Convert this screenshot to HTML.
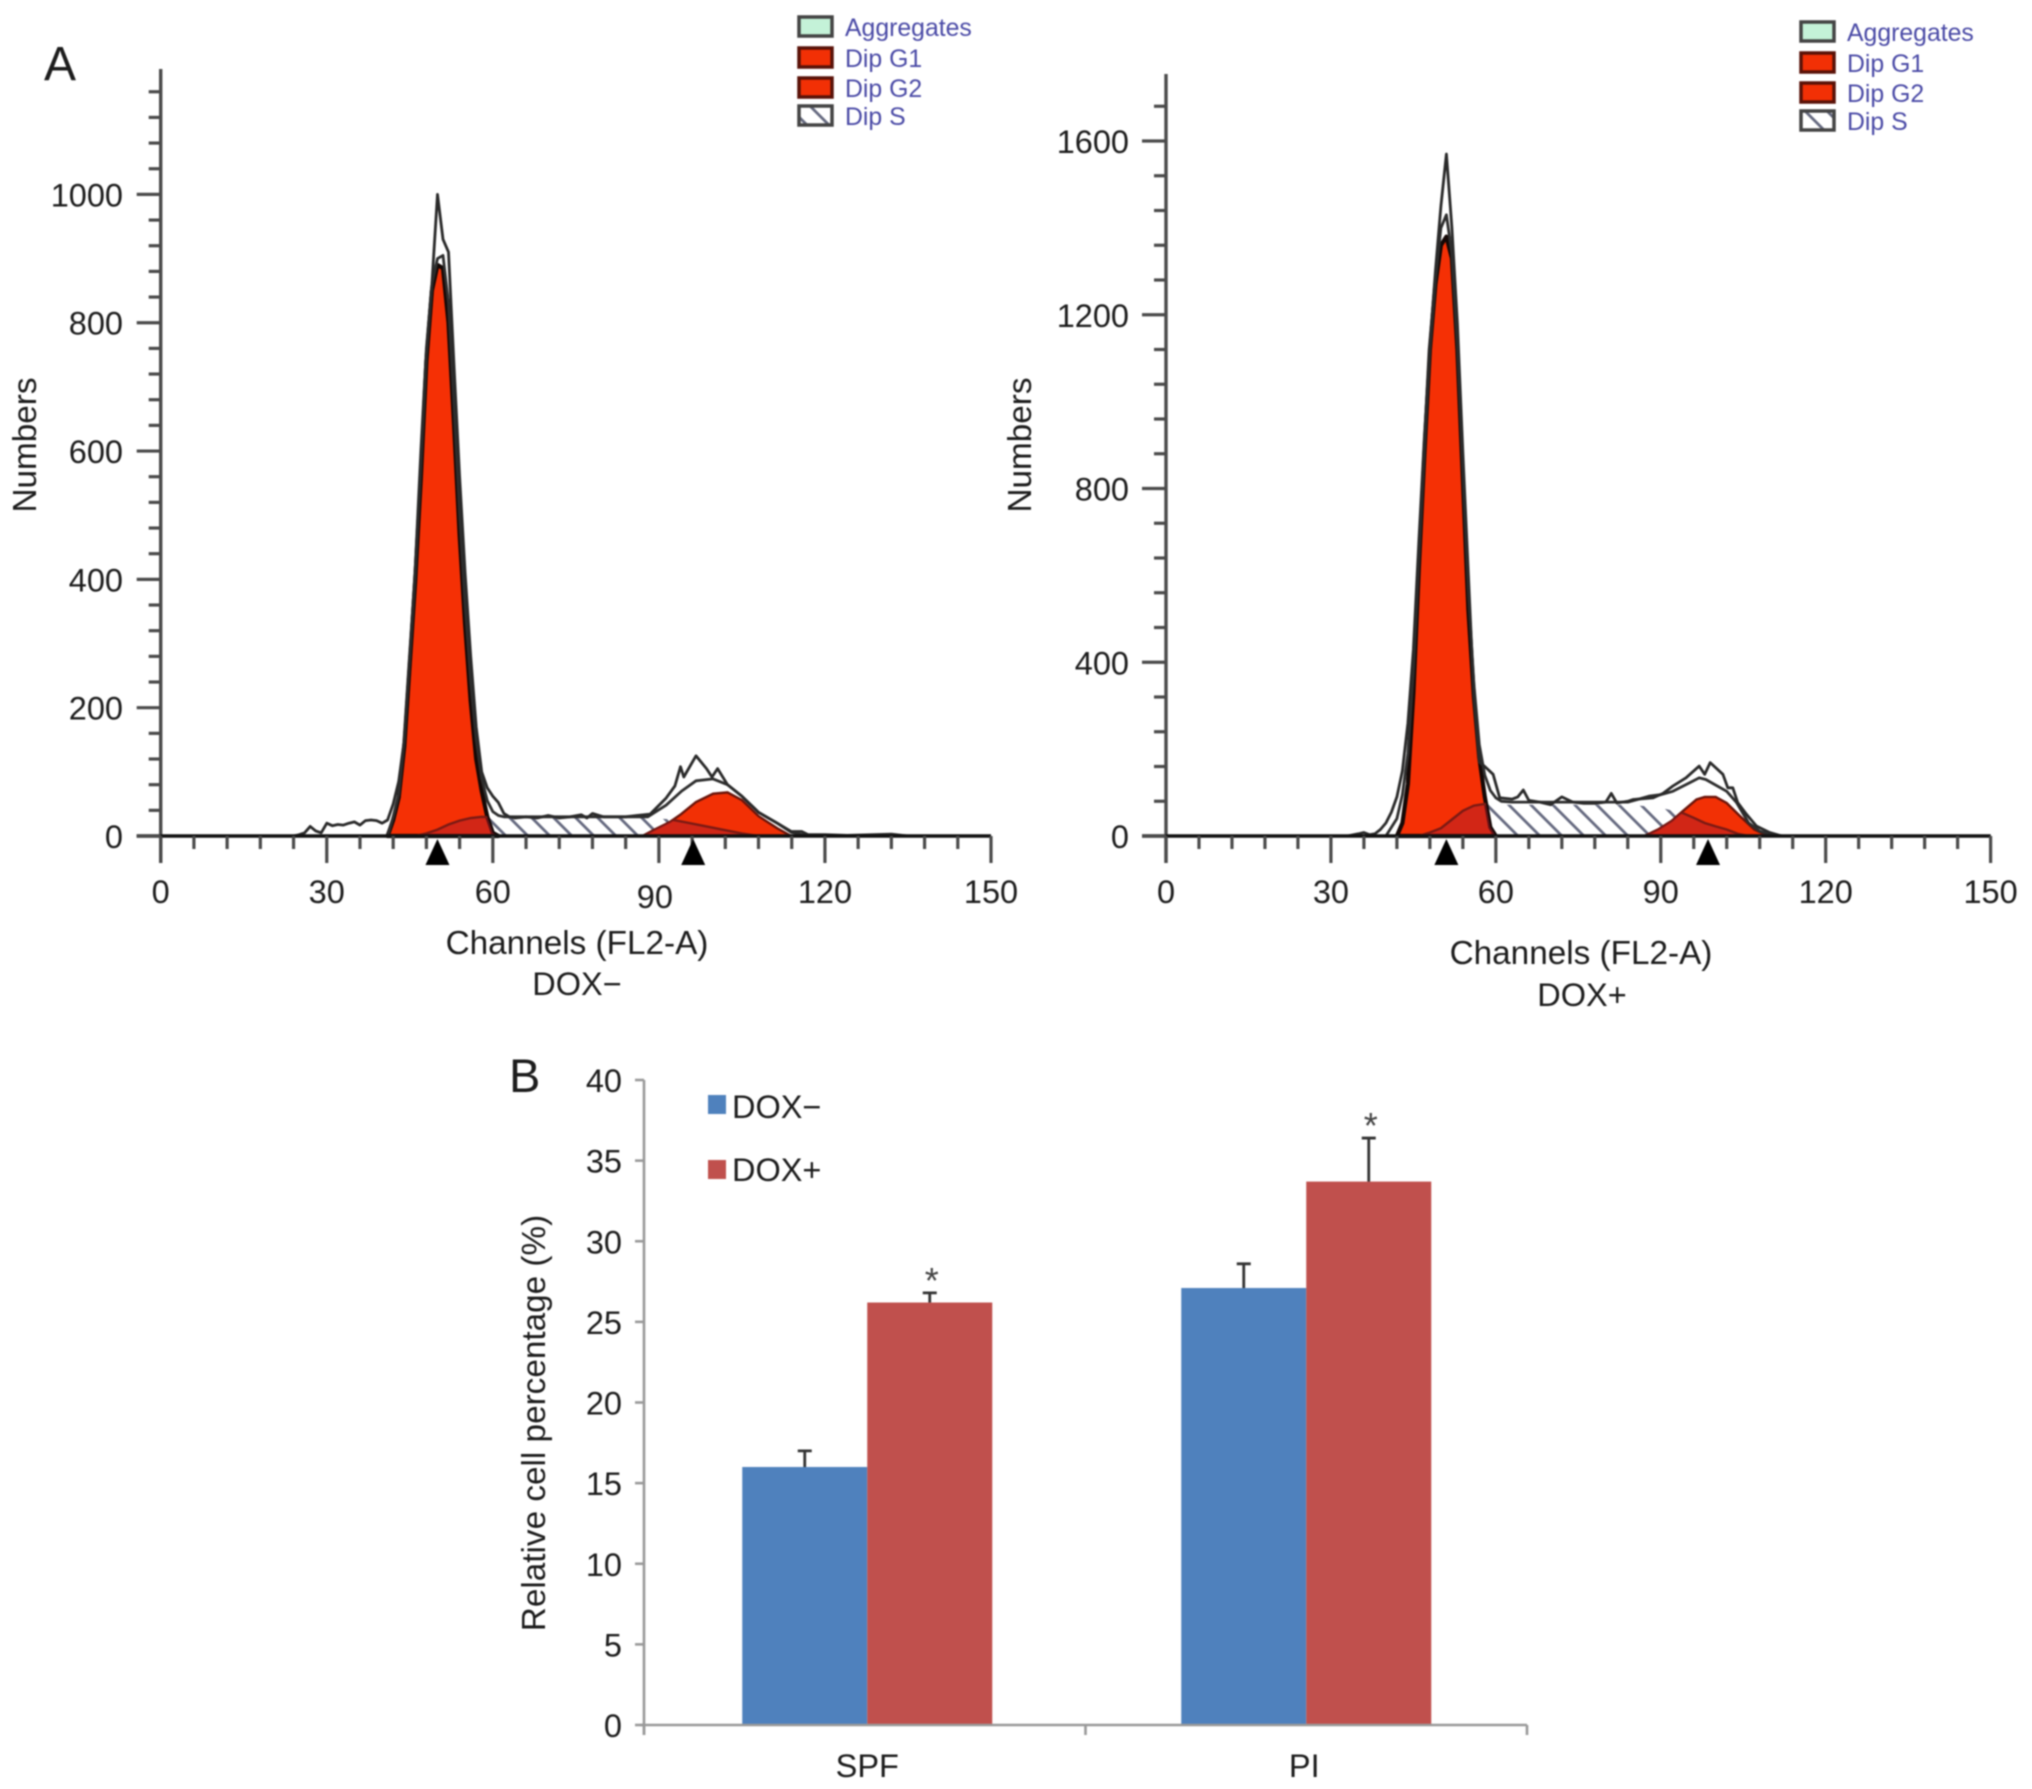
<!DOCTYPE html>
<html lang="en">
<head>
<meta charset="utf-8">
<title>Cell cycle histograms and relative cell percentage</title>
<style>
html,body{margin:0;padding:0;background:#fff;width:2032px;height:1789px;overflow:hidden}
svg{display:block;filter:blur(.9px)}
text{font-family:"Liberation Sans",Arial,sans-serif;fill:#1c1c1c;font-size:32.5px}
.title{font-size:33.3px}
.legend-text{font-size:24.8px;fill:#4a4aa6}
</style>
</head>
<body>
<svg id="figure" xmlns="http://www.w3.org/2000/svg" width="2032" height="1789" viewBox="0 0 2032 1789">
  <defs>
    <pattern id="hatch" patternUnits="userSpaceOnUse" width="22" height="22">
      <path d="M0 0L22 22M-6 16L6 28M16 -6L28 6" stroke="#666a80" stroke-width="2.8" fill="none"/>
    </pattern>
  </defs>
  <rect width="2032" height="1789" fill="#fff"/>

  <text x="44" y="80" style="font-size:48px">A</text>
  <text x="509" y="1092" style="font-size:47px">B</text>

  <g id="histogram-left"></g>
  <g id="histogram-right"></g>
  <g id="bar-chart"></g>

  <text class="title" transform="translate(36,445) rotate(-90)" text-anchor="middle">Numbers</text>
  <text class="title" x="577" y="954" text-anchor="middle">Channels (FL2-A)</text>
  <text x="577" y="995" text-anchor="middle">DOX−</text>
  <text class="title" transform="translate(1031,445) rotate(-90)" text-anchor="middle">Numbers</text>
  <text class="title" x="1581" y="964" text-anchor="middle">Channels (FL2-A)</text>
  <text x="1582" y="1006" text-anchor="middle">DOX+</text>
  <text class="title" transform="translate(545,1423) rotate(-90)" text-anchor="middle">Relative cell percentage (%)</text>

  <g>
    <g><rect x="799" y="17" width="33" height="19" fill="#c4f2d8" stroke="#444" stroke-width="3.5"/><text class="legend-text" x="845" y="36">Aggregates</text></g>
    <g><rect x="799" y="48" width="33" height="19" fill="#f23005" stroke="#5a1208" stroke-width="3.5"/><text class="legend-text" x="845" y="67">Dip G1</text></g>
    <g><rect x="799" y="78" width="33" height="19" fill="#f23005" stroke="#5a1208" stroke-width="3.5"/><text class="legend-text" x="845" y="97">Dip G2</text></g>
    <g><rect x="799" y="106" width="33" height="19" fill="url(#hatch)" stroke="#444" stroke-width="3.5"/><text class="legend-text" x="845" y="125">Dip S</text></g>
  </g>
  <g>
    <g><rect x="1801" y="22" width="33" height="19" fill="#c4f2d8" stroke="#444" stroke-width="3.5"/><text class="legend-text" x="1847" y="41">Aggregates</text></g>
    <g><rect x="1801" y="53" width="33" height="19" fill="#f23005" stroke="#5a1208" stroke-width="3.5"/><text class="legend-text" x="1847" y="72">Dip G1</text></g>
    <g><rect x="1801" y="83" width="33" height="19" fill="#f23005" stroke="#5a1208" stroke-width="3.5"/><text class="legend-text" x="1847" y="102">Dip G2</text></g>
    <g><rect x="1801" y="111" width="33" height="19" fill="url(#hatch)" stroke="#444" stroke-width="3.5"/><text class="legend-text" x="1847" y="130">Dip S</text></g>
  </g>

  <g>
    <g><rect x="708" y="1095" width="18" height="19" fill="#4f81bd"/><text x="732" y="1118">DOX−</text></g>
    <g><rect x="708" y="1160" width="18" height="19" fill="#c0504d"/><text x="732" y="1181">DOX+</text></g>
  </g>
</svg>

<script>
// ---- Shared histogram tick data ----
const histXTicks = [0, 30, 60, 90, 120, 150];
const histXMinorTicks = [6, 12, 18, 24, 36, 42, 48, 54, 66, 72, 78, 84, 96, 102, 108, 114, 126, 132, 138, 144];

// ---- DOX- histogram ----
const leftYTicks = [0, 200, 400, 600, 800, 1000];
const leftYMinorTicks = [40, 80, 120, 160, 240, 280, 320, 360, 440, 480, 520, 560, 640, 680, 720, 760, 840, 880, 920, 960, 1040, 1080, 1120, 1160];
const leftPeakMarkers = [50, 96.2];
const leftRawCh = [0, 24, 25, 26, 27, 28, 29, 30, 31, 32, 33, 34, 35, 36, 37, 38, 39, 40, 41, 42, 43, 44, 45, 46, 47, 48, 49, 50, 51, 52, 53, 54, 55, 56, 57, 58, 59, 60, 61, 62, 63, 64, 66, 68, 70, 72, 74, 76, 77, 78, 80, 82, 84, 86, 88.4, 91.3, 92.9, 93.9, 94.5, 96.7, 98.6, 99.6, 100.6, 102.4, 105, 108, 111.4, 113.9, 115.8, 117, 120, 124, 132, 135, 150];
const leftRawCount = [0, 0, 2, 5, 15, 8, 5, 20, 16, 18, 17, 20, 22, 17, 24, 25, 24, 20, 25, 50, 85, 150, 280, 420, 600, 760, 860, 1000, 930, 910, 730, 560, 410, 280, 170, 100, 75, 62, 52, 35, 30, 28, 30, 28, 32, 28, 30, 33, 28, 35, 30, 30, 30, 32, 34, 59, 78, 108, 92, 125, 105, 92, 105, 80, 62, 37, 20, 7, 7, 2, 2, 1, 3, 0, 0];
const leftModelCh = [0, 41, 42, 43, 44, 45, 46, 47, 48, 49, 50, 51, 52, 53, 54, 55, 56, 57, 58, 59, 60, 61, 62, 88, 91.3, 94.1, 96.7, 99.8, 102.4, 105, 108, 111.4, 113.9, 116, 118, 150];
const leftModelCount = [0, 0, 30, 65, 150, 280, 410, 580, 750, 860, 900, 905, 830, 670, 500, 360, 240, 150, 90, 55, 38, 32, 30, 30, 48, 70, 86, 89, 80, 62, 37, 20, 6, 2, 0, 0];
const leftG1Ch = [41, 42, 43, 44, 45, 46, 47, 48, 49, 50, 51, 52, 53, 54, 55, 56, 57, 58, 59, 60, 61];
const leftG1Count = [0, 25, 60, 140, 270, 400, 560, 740, 850, 890, 885, 800, 640, 470, 330, 210, 120, 70, 30, 5, 0];
const leftG2Ch = [87, 89, 92, 94, 96.7, 99.8, 102.4, 105, 108, 111.4, 113.9];
const leftG2Count = [0, 9, 22, 34, 53, 66, 68, 56, 31, 12, 0];
const leftSCh = [46, 48, 50, 52, 54, 56, 58, 60, 62, 88, 92, 95, 98.6, 102, 105, 108];
const leftSCount = [0, 4, 10, 18, 24, 28, 30, 29, 28, 28, 26, 21, 15, 9, 4, 0];

// ---- DOX+ histogram ----
const rightYTicks = [0, 400, 800, 1200, 1600];
const rightYMinorTicks = [80, 160, 240, 320, 480, 560, 640, 720, 880, 960, 1040, 1120, 1280, 1360, 1440, 1520, 1680];
const rightPeakMarkers = [51, 98.6];
const rightRawCh = [0, 33, 35, 36, 37, 38, 39, 40, 41, 42, 43, 44, 45, 46, 47, 48, 49, 50, 51, 52, 53, 54, 55, 56, 57, 58, 59.5, 60.7, 63, 64, 65, 66, 68, 70, 72, 74, 76, 78, 80, 81, 82, 84, 85, 88.6, 90.4, 92.2, 94.6, 97, 98, 99, 101.3, 102.2, 103.1, 104, 105.6, 107.4, 109.8, 112, 150];
const rightRawCount = [0, 0, 5, 8, 3, 5, 15, 30, 55, 90, 150, 260, 430, 680, 920, 1130, 1300, 1450, 1570, 1400, 1180, 880, 600, 320, 170, 160, 142, 88, 85, 90, 106, 82, 78, 72, 90, 78, 75, 75, 78, 98, 76, 80, 84, 88, 98, 115, 134, 161, 142, 169, 142, 111, 111, 77, 50, 23, 8, 0, 0];
const rightModelCh = [0, 40, 42, 43, 44, 45, 46, 47, 48, 49, 50, 51, 52, 53, 54, 55, 56, 57, 58, 59, 60, 61, 63, 84, 86, 88, 90, 92.2, 95.8, 97, 98.2, 102, 103.8, 106, 108, 110, 112, 150];
const rightModelCount = [0, 0, 40, 95, 190, 380, 640, 890, 1120, 1280, 1400, 1430, 1340, 1130, 840, 560, 350, 210, 140, 105, 88, 80, 78, 78, 85, 92, 95, 103, 126, 134, 130, 103, 77, 30, 11, 3, 0, 0];
const rightG1Ch = [42, 43, 44, 45, 46, 47, 48, 49, 50, 51, 52, 53, 54, 55, 56, 57, 58, 59, 60];
const rightG1Count = [0, 30, 120, 330, 620, 880, 1120, 1270, 1360, 1380, 1330, 1120, 820, 520, 320, 180, 90, 20, 0];
const rightG2Ch = [87, 89.5, 92, 94, 96.5, 98, 100, 102, 104.4, 107, 109, 111];
const rightG2Count = [0, 15, 35, 57, 84, 90, 90, 76, 46, 15, 3, 0];
const rightSCh = [46, 48, 50, 52, 54, 56, 58, 60, 84, 88, 91, 94, 96, 98, 100, 102, 104, 106];
const rightSCount = [0, 8, 18, 38, 58, 70, 74, 72, 72, 68, 62, 53, 42, 30, 22, 15, 5, 0];

// ---- Bar chart ----
const barCategories = ['SPF', 'PI'];
const barDoxMinus = [16, 27.1];
const barDoxPlus = [26.2, 33.7];
const barDoxMinusUpper = [17, 28.6];
const barDoxPlusUpper = [26.8, 36.4];
const barYTicks = [0, 5, 10, 15, 20, 25, 30, 35, 40];

const SVGNS = 'http://www.w3.org/2000/svg';
function make(parent, tag, attrs, text) {
  const el = document.createElementNS(SVGNS, tag);
  for (const key in attrs) el.setAttribute(key, attrs[key]);
  if (text !== undefined) el.textContent = text;
  parent.appendChild(el);
  return el;
}
function pathFrom(chs, counts, x, y, close) {
  let d = '';
  chs.forEach(function (c, i) {
    d += (i ? 'L' : 'M') + x(c).toFixed(1) + ' ' + y(counts[i]).toFixed(1);
  });
  return close ? d + 'Z' : d;
}

function drawHistogram(host, id, cfg) {
  const x = function (c) { return cfg.x0 + (c / 150) * (cfg.x150 - cfg.x0); };
  const y = function (v) { return cfg.y0 - (v / cfg.refValue) * (cfg.y0 - cfg.yRef); };
  const axisColor = '#4a4a4a';

  const sPath = pathFrom(cfg.sCh, cfg.sCount, x, y, true);
  const g1Path = pathFrom(cfg.g1Ch, cfg.g1Count, x, y, true);
  const g2Path = pathFrom(cfg.g2Ch, cfg.g2Count, x, y, true);

  const sArea = make(host, 'path', { d: sPath, fill: 'url(#hatch)', stroke: 'none' });
  
  

  const g2Area = make(host, 'path', { d: g2Path, fill: '#f23005', stroke: '#6a140a', 'stroke-width': 2.4 });
  
  

  const g1Area = make(host, 'path', { d: g1Path, fill: '#f53005', stroke: '#140806', 'stroke-width': 4.2, 'stroke-linejoin': 'round' });
  
  

  const clip = make(host, 'clipPath', { id: id + '-red-clip' });
  make(clip, 'path', { d: g1Path });
  make(clip, 'path', { d: g2Path });
  const overlap = make(host, 'path', { d: sPath, fill: '#b01c28', 'fill-opacity': 0.5, 'clip-path': 'url(#' + id + '-red-clip)' });
  
  

  const sLine = make(host, 'path', { d: pathFrom(cfg.sCh, cfg.sCount, x, y, false), fill: 'none', stroke: '#7a1a14', 'stroke-width': 2.4, 'clip-path': 'url(#' + id + '-red-clip)' });
  
  

  const model = make(host, 'path', { d: pathFrom(cfg.modelCh, cfg.modelCount, x, y, false), fill: 'none', stroke: '#2e2e2e', 'stroke-width': 2.8, 'stroke-linejoin': 'round' });
  
  

  const raw = make(host, 'path', { d: pathFrom(cfg.rawCh, cfg.rawCount, x, y, false), fill: 'none', stroke: '#2a2a2a', 'stroke-width': 2.8, 'stroke-linejoin': 'round' });
  
  

  const yAxis = make(host, 'line', { x1: cfg.x0, x2: cfg.x0, y1: cfg.axisTop, y2: cfg.y0 + 27, stroke: axisColor, 'stroke-width': 3.4 });
  
  

  const xAxis = make(host, 'line', { x1: cfg.x0 - 24, x2: cfg.x150, y1: cfg.y0, y2: cfg.y0, stroke: '#111', 'stroke-width': 3.6 });
  
  

  histXTicks.forEach(function (t) {
    const tick = make(host, 'line', { x1: x(t), x2: x(t), y1: cfg.y0, y2: cfg.y0 + 27, stroke: axisColor, 'stroke-width': 3.2 });
    
    
    const lowered = cfg.lowerNinety && t === 90;
    const label = make(host, 'text', { x: x(t) - (lowered ? 4 : 0), y: cfg.xLabelBaseline + (lowered ? 5 : 0), 'text-anchor': 'middle' }, String(t));
    
    
  });
  histXMinorTicks.forEach(function (t) {
    const tick = make(host, 'line', { x1: x(t), x2: x(t), y1: cfg.y0, y2: cfg.y0 + 13, stroke: axisColor, 'stroke-width': 3.2 });
    
    
  });
  cfg.yTicks.forEach(function (t) {
    const tick = make(host, 'line', { x1: cfg.x0 - 24, x2: cfg.x0, y1: y(t), y2: y(t), stroke: axisColor, 'stroke-width': 3.2 });
    
    
    const label = make(host, 'text', { x: cfg.yLabelRight, y: y(t) + 12, 'text-anchor': 'end' }, String(t));
    
    
  });
  cfg.yMinorTicks.forEach(function (t) {
    const tick = make(host, 'line', { x1: cfg.x0 - 12, x2: cfg.x0, y1: y(t), y2: y(t), stroke: axisColor, 'stroke-width': 3.2 });
    
    
  });
  cfg.peaks.forEach(function (p) {
    const px = x(p);
    const tri = make(host, 'path', { d: 'M' + px + ' ' + (cfg.y0 + 3) + 'L' + (px + 12) + ' ' + (cfg.y0 + 29) + 'L' + (px - 12) + ' ' + (cfg.y0 + 29) + 'Z', fill: '#000' });
    
    
  });
}

drawHistogram(document.getElementById('histogram-left'), 'left', {
  x0: 160.7, x150: 991, y0: 836, yRef: 194.4, refValue: 1000, axisTop: 69,
  xLabelBaseline: 903, yLabelRight: 123, lowerNinety: true,
  yTicks: leftYTicks, yMinorTicks: leftYMinorTicks, peaks: leftPeakMarkers,
  rawCh: leftRawCh, rawCount: leftRawCount, modelCh: leftModelCh, modelCount: leftModelCount,
  g1Ch: leftG1Ch, g1Count: leftG1Count, g2Ch: leftG2Ch, g2Count: leftG2Count, sCh: leftSCh, sCount: leftSCount
});
drawHistogram(document.getElementById('histogram-right'), 'right', {
  x0: 1166, x150: 1990.6, y0: 836, yRef: 141, refValue: 1600, axisTop: 74,
  xLabelBaseline: 903, yLabelRight: 1129, lowerNinety: false,
  yTicks: rightYTicks, yMinorTicks: rightYMinorTicks, peaks: rightPeakMarkers,
  rawCh: rightRawCh, rawCount: rightRawCount, modelCh: rightModelCh, modelCount: rightModelCount,
  g1Ch: rightG1Ch, g1Count: rightG1Count, g2Ch: rightG2Ch, g2Count: rightG2Count, sCh: rightSCh, sCount: rightSCount
});

(function drawBars() {
  const host = document.getElementById('bar-chart');
  const left = 644, right = 1527, y0 = 1725, y40 = 1080, barW = 125;
  const y = function (v) { return y0 - (v / 40) * (y0 - y40); };
  const band = (right - left) / barCategories.length;
  const center = function (i) { return left + band * (i + 0.5) + (i === 0 ? 2.5 : 0); };

  barCategories.forEach(function (name, i) {
    const c = center(i);
    const minusBar = make(host, 'rect', { x: c - barW, y: y(barDoxMinus[i]), width: barW, height: y0 - y(barDoxMinus[i]), fill: '#4f81bd' });
    
    
    const plusBar = make(host, 'rect', { x: c, y: y(barDoxPlus[i]), width: barW, height: y0 - y(barDoxPlus[i]), fill: '#c0504d' });
    
    

    const minusErr = make(host, 'path', { d: 'M' + (c - barW / 2) + ' ' + y(barDoxMinus[i]) + 'V' + y(barDoxMinusUpper[i]) + 'm-7 0h14', fill: 'none', stroke: '#333', 'stroke-width': 2.8 });
    
    
    const plusErr = make(host, 'path', { d: 'M' + (c + barW / 2) + ' ' + y(barDoxPlus[i]) + 'V' + y(barDoxPlusUpper[i]) + 'm-7 0h14', fill: 'none', stroke: '#333', 'stroke-width': 2.8 });
    
    

    const star = make(host, 'text', { x: c + barW / 2 + 2, y: y(barDoxPlusUpper[i]), 'text-anchor': 'middle', style: 'font-size:36px;fill:#444' }, '*');
    
    

    const label = make(host, 'text', { x: c + (i ? -2 : 0), y: 1777, 'text-anchor': 'middle' }, name);
    
    

    const catTick = make(host, 'line', { x1: left + band * i, x2: left + band * i, y1: y0, y2: y0 + 10, stroke: '#999', 'stroke-width': 2.6 });
    
    
  });
  const lastTick = make(host, 'line', { x1: right, x2: right, y1: y0, y2: y0 + 10, stroke: '#999', 'stroke-width': 2.6 });
  
  

  const xAxis = make(host, 'line', { x1: left - 4, x2: right, y1: y0, y2: y0, stroke: '#999', 'stroke-width': 2.6 });
  
  
  const yAxis = make(host, 'line', { x1: left, x2: left, y1: y(40), y2: y0 + 10, stroke: '#999', 'stroke-width': 2.6 });
  
  

  barYTicks.forEach(function (t) {
    const tick = make(host, 'line', { x1: left - 9, x2: left, y1: y(t), y2: y(t), stroke: '#999', 'stroke-width': 2.6 });
    
    
    const label = make(host, 'text', { x: 622, y: y(t) + 12, 'text-anchor': 'end' }, String(t));
    
    
  });
})();
</script>
</body>
</html>
